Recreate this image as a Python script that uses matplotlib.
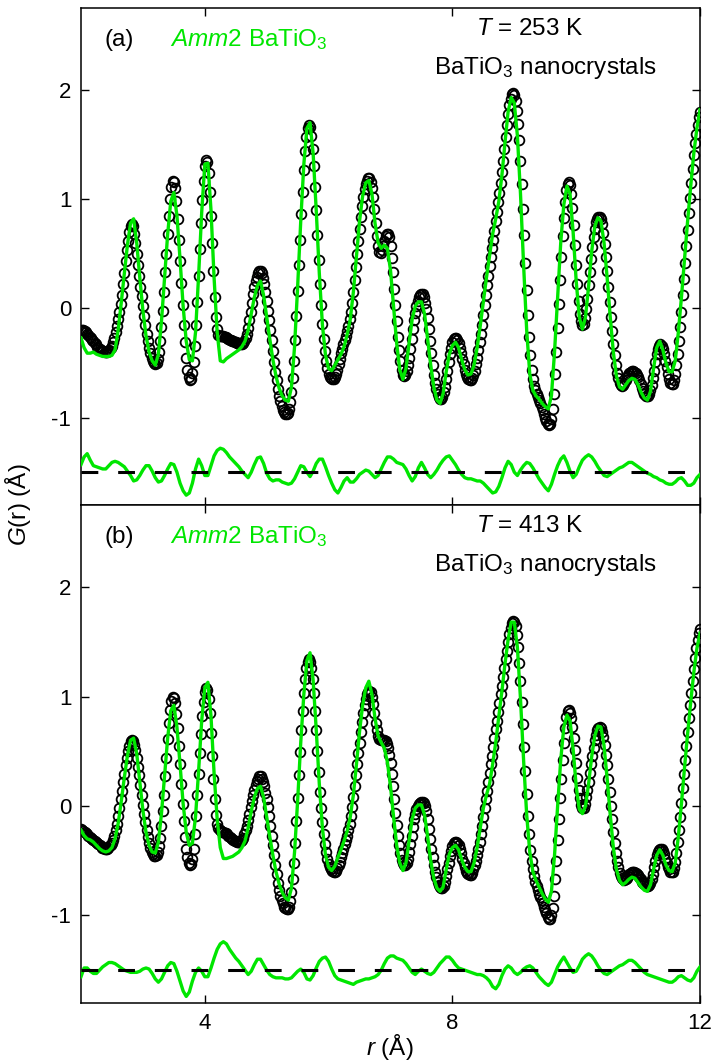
import numpy as np
import matplotlib
matplotlib.use('Agg')
import matplotlib.pyplot as plt

plt.rcParams['font.family'] = ['Liberation Sans', 'DejaVu Sans']
plt.rcParams['mathtext.fontset'] = 'custom'
plt.rcParams['mathtext.rm'] = 'Liberation Sans'
plt.rcParams['mathtext.it'] = 'Liberation Sans:italic'
plt.rcParams['axes.unicode_minus'] = False

# observed G(r), r = 2..12 step 0.02
top_obs = [
    -0.21, -0.20, -0.20, -0.21, -0.22, -0.23, -0.24, -0.26, -0.27, -0.29,
    -0.30, -0.32, -0.33, -0.35, -0.36, -0.37, -0.38, -0.39, -0.39, -0.40,
    -0.40, -0.40, -0.39, -0.38, -0.36, -0.34, -0.31, -0.27, -0.22, -0.16,
    -0.10, -0.03, 0.04, 0.12, 0.22, 0.32, 0.43, 0.53, 0.62, 0.70,
    0.75, 0.77, 0.75, 0.68, 0.60, 0.50, 0.40, 0.30, 0.20, 0.11,
    0.02, -0.07, -0.15, -0.23, -0.30, -0.36, -0.41, -0.45, -0.48, -0.50,
    -0.51, -0.50, -0.46, -0.40, -0.30, -0.17, -0.02, 0.15, 0.33, 0.50,
    0.68, 0.85, 1.00, 1.11, 1.17, 1.16, 1.10, 0.98, 0.82, 0.63,
    0.43, 0.23, 0.03, -0.15, -0.31, -0.45, -0.56, -0.63, -0.66, -0.65,
    -0.59, -0.49, -0.34, -0.15, 0.06, 0.30, 0.54, 0.78, 0.99, 1.17,
    1.30, 1.36, 1.34, 1.24, 1.07, 0.85, 0.60, 0.34, 0.10, -0.08,
    -0.19, -0.24, -0.25, -0.25, -0.25, -0.25, -0.26, -0.26, -0.27, -0.28,
    -0.29, -0.29, -0.30, -0.30, -0.31, -0.31, -0.32, -0.32, -0.33, -0.33,
    -0.33, -0.32, -0.30, -0.27, -0.23, -0.18, -0.11, -0.03, 0.05, 0.13,
    0.20, 0.25, 0.29, 0.32, 0.34, 0.34, 0.32, 0.28, 0.22, 0.15,
    0.07, -0.02, -0.11, -0.20, -0.29, -0.39, -0.49, -0.58, -0.66, -0.74,
    -0.80, -0.85, -0.89, -0.93, -0.95, -0.97, -0.97, -0.96, -0.92, -0.86,
    -0.77, -0.64, -0.48, -0.29, -0.07, 0.16, 0.40, 0.63, 0.86, 1.07,
    1.27, 1.44, 1.57, 1.65, 1.68, 1.66, 1.58, 1.46, 1.30, 1.11,
    0.90, 0.67, 0.44, 0.22, 0.03, -0.14, -0.28, -0.39, -0.48, -0.55,
    -0.60, -0.63, -0.64, -0.65, -0.65, -0.63, -0.60, -0.56, -0.51, -0.46,
    -0.41, -0.37, -0.33, -0.29, -0.25, -0.21, -0.16, -0.10, -0.03, 0.05,
    0.15, 0.26, 0.38, 0.50, 0.62, 0.73, 0.84, 0.94, 1.02, 1.09,
    1.14, 1.17, 1.19, 1.19, 1.16, 1.10, 1.02, 0.91, 0.78, 0.66,
    0.57, 0.52, 0.51, 0.53, 0.57, 0.62, 0.66, 0.68, 0.68, 0.65,
    0.57, 0.46, 0.33, 0.18, 0.03, -0.12, -0.26, -0.38, -0.48, -0.56,
    -0.61, -0.62, -0.61, -0.57, -0.52, -0.45, -0.37, -0.28, -0.19, -0.11,
    -0.04, 0.02, 0.07, 0.10, 0.12, 0.13, 0.13, 0.10, 0.05, -0.01,
    -0.09, -0.19, -0.30, -0.41, -0.52, -0.61, -0.68, -0.74, -0.78, -0.81,
    -0.83, -0.83, -0.81, -0.77, -0.72, -0.65, -0.57, -0.49, -0.42, -0.36,
    -0.31, -0.28, -0.27, -0.27, -0.29, -0.32, -0.36, -0.41, -0.46, -0.51,
    -0.56, -0.60, -0.63, -0.65, -0.66, -0.66, -0.64, -0.61, -0.57, -0.51,
    -0.45, -0.38, -0.31, -0.23, -0.15, -0.06, 0.03, 0.12, 0.21, 0.30,
    0.39, 0.47, 0.55, 0.63, 0.71, 0.80, 0.88, 0.97, 1.06, 1.15,
    1.25, 1.35, 1.46, 1.57, 1.68, 1.78, 1.86, 1.92, 1.96, 1.97,
    1.95, 1.90, 1.81, 1.69, 1.54, 1.35, 1.14, 0.91, 0.67, 0.42,
    0.17, -0.06, -0.26, -0.43, -0.56, -0.65, -0.71, -0.75, -0.78, -0.81,
    -0.84, -0.87, -0.90, -0.93, -0.97, -1.00, -1.03, -1.06, -1.07, -1.06,
    -1.01, -0.92, -0.78, -0.60, -0.40, -0.18, 0.04, 0.26, 0.47, 0.66,
    0.83, 0.97, 1.08, 1.14, 1.16, 1.13, 1.05, 0.92, 0.76, 0.58,
    0.40, 0.22, 0.07, -0.05, -0.12, -0.15, -0.14, -0.09, -0.01, 0.09,
    0.21, 0.33, 0.45, 0.56, 0.65, 0.73, 0.79, 0.82, 0.84, 0.84,
    0.82, 0.77, 0.69, 0.59, 0.47, 0.34, 0.20, 0.06, -0.08, -0.21,
    -0.33, -0.43, -0.52, -0.59, -0.64, -0.68, -0.70, -0.71, -0.70, -0.68,
    -0.66, -0.63, -0.61, -0.59, -0.58, -0.57, -0.57, -0.58, -0.59, -0.61,
    -0.63, -0.66, -0.69, -0.73, -0.76, -0.78, -0.80, -0.80, -0.80, -0.78,
    -0.75, -0.70, -0.64, -0.57, -0.49, -0.42, -0.37, -0.34, -0.33, -0.34,
    -0.37, -0.42, -0.48, -0.54, -0.60, -0.65, -0.68, -0.69, -0.69, -0.66,
    -0.60, -0.52, -0.42, -0.30, -0.17, -0.03, 0.12, 0.27, 0.42, 0.57,
    0.72, 0.87, 1.01, 1.15, 1.28, 1.40, 1.51, 1.60, 1.68, 1.75,
    1.80,
]

bot_obs = [
    -0.21, -0.22, -0.23, -0.24, -0.25, -0.26, -0.27, -0.28, -0.29, -0.30,
    -0.31, -0.32, -0.33, -0.34, -0.35, -0.36, -0.37, -0.38, -0.38, -0.39,
    -0.39, -0.39, -0.38, -0.37, -0.36, -0.34, -0.31, -0.27, -0.22, -0.16,
    -0.09, -0.02, 0.06, 0.14, 0.22, 0.29, 0.37, 0.44, 0.50, 0.55,
    0.59, 0.60, 0.59, 0.56, 0.51, 0.44, 0.36, 0.28, 0.19, 0.10,
    0.01, -0.07, -0.15, -0.22, -0.28, -0.34, -0.38, -0.42, -0.44, -0.46,
    -0.46, -0.45, -0.42, -0.37, -0.29, -0.18, -0.05, 0.10, 0.27, 0.44,
    0.61, 0.76, 0.88, 0.96, 1.00, 0.99, 0.94, 0.84, 0.71, 0.55,
    0.38, 0.20, 0.02, -0.14, -0.28, -0.39, -0.47, -0.52, -0.54, -0.53,
    -0.48, -0.39, -0.26, -0.09, 0.10, 0.29, 0.48, 0.66, 0.82, 0.95,
    1.04, 1.08, 1.06, 0.98, 0.85, 0.67, 0.46, 0.25, 0.06, -0.08,
    -0.16, -0.20, -0.22, -0.23, -0.24, -0.24, -0.25, -0.25, -0.26, -0.27,
    -0.28, -0.29, -0.30, -0.31, -0.32, -0.32, -0.33, -0.33, -0.33, -0.32,
    -0.31, -0.29, -0.26, -0.22, -0.18, -0.13, -0.07, -0.01, 0.05, 0.10,
    0.15, 0.19, 0.23, 0.25, 0.27, 0.27, 0.25, 0.22, 0.18, 0.12,
    0.06, -0.01, -0.09, -0.18, -0.27, -0.36, -0.45, -0.54, -0.62, -0.70,
    -0.77, -0.82, -0.86, -0.89, -0.92, -0.93, -0.94, -0.94, -0.92, -0.87,
    -0.79, -0.67, -0.52, -0.34, -0.14, 0.07, 0.28, 0.49, 0.69, 0.87,
    1.03, 1.16, 1.26, 1.32, 1.34, 1.32, 1.26, 1.16, 1.03, 0.87,
    0.69, 0.50, 0.31, 0.13, -0.02, -0.15, -0.26, -0.35, -0.42, -0.48,
    -0.53, -0.56, -0.58, -0.59, -0.60, -0.60, -0.59, -0.57, -0.54, -0.51,
    -0.47, -0.43, -0.39, -0.35, -0.31, -0.27, -0.22, -0.16, -0.09, -0.01,
    0.08, 0.18, 0.28, 0.38, 0.48, 0.58, 0.68, 0.77, 0.85, 0.92,
    0.98, 1.02, 1.04, 1.05, 1.04, 1.00, 0.93, 0.85, 0.76, 0.69,
    0.64, 0.61, 0.60, 0.60, 0.60, 0.60, 0.59, 0.57, 0.53, 0.47,
    0.39, 0.29, 0.18, 0.06, -0.06, -0.17, -0.27, -0.36, -0.43, -0.49,
    -0.52, -0.54, -0.54, -0.52, -0.48, -0.42, -0.35, -0.27, -0.19, -0.12,
    -0.07, -0.03, 0.00, 0.02, 0.03, 0.04, 0.04, 0.03, 0.00, -0.05,
    -0.12, -0.21, -0.30, -0.39, -0.47, -0.54, -0.60, -0.65, -0.69, -0.72,
    -0.74, -0.75, -0.75, -0.73, -0.69, -0.64, -0.58, -0.52, -0.46, -0.41,
    -0.37, -0.34, -0.33, -0.33, -0.34, -0.36, -0.39, -0.43, -0.48, -0.52,
    -0.56, -0.59, -0.61, -0.62, -0.63, -0.63, -0.61, -0.58, -0.54, -0.50,
    -0.45, -0.39, -0.33, -0.26, -0.18, -0.10, -0.02, 0.06, 0.14, 0.22,
    0.30, 0.38, 0.46, 0.54, 0.62, 0.70, 0.78, 0.86, 0.94, 1.02,
    1.10, 1.18, 1.26, 1.34, 1.42, 1.50, 1.57, 1.63, 1.67, 1.69,
    1.68, 1.64, 1.56, 1.45, 1.31, 1.14, 0.95, 0.75, 0.54, 0.32,
    0.11, -0.09, -0.26, -0.40, -0.50, -0.58, -0.64, -0.69, -0.73, -0.77,
    -0.80, -0.83, -0.86, -0.89, -0.92, -0.95, -0.98, -1.01, -1.03, -1.03,
    -1.00, -0.93, -0.82, -0.67, -0.50, -0.31, -0.12, 0.07, 0.25, 0.42,
    0.58, 0.71, 0.81, 0.87, 0.88, 0.85, 0.80, 0.72, 0.62, 0.51,
    0.39, 0.26, 0.15, 0.07, 0.01, -0.02, -0.02, 0.02, 0.08, 0.15,
    0.22, 0.30, 0.38, 0.46, 0.53, 0.60, 0.65, 0.69, 0.71, 0.72,
    0.71, 0.68, 0.63, 0.56, 0.47, 0.37, 0.25, 0.13, 0.00, -0.12,
    -0.24, -0.34, -0.43, -0.50, -0.56, -0.61, -0.64, -0.66, -0.67, -0.68,
    -0.67, -0.66, -0.64, -0.62, -0.61, -0.60, -0.60, -0.60, -0.61, -0.62,
    -0.63, -0.65, -0.67, -0.69, -0.70, -0.71, -0.72, -0.73, -0.73, -0.72,
    -0.70, -0.67, -0.62, -0.56, -0.50, -0.45, -0.42, -0.40, -0.39, -0.39,
    -0.41, -0.44, -0.48, -0.52, -0.56, -0.58, -0.60, -0.60, -0.60, -0.57,
    -0.51, -0.43, -0.33, -0.22, -0.10, 0.03, 0.16, 0.29, 0.42, 0.55,
    0.68, 0.80, 0.92, 1.03, 1.14, 1.25, 1.35, 1.44, 1.52, 1.58,
    1.62,
]

# Amm2 fit, r = 2..12 step 0.05
top_fit = [
    -0.27, -0.36, -0.41, -0.41, -0.40, -0.42, -0.43, -0.44, -0.44, -0.44,
    -0.43, -0.38, -0.20, 0.05, 0.32, 0.58, 0.78, 0.82, 0.60, 0.28,
    -0.02, -0.25, -0.40, -0.48, -0.52, -0.42, -0.12, 0.28, 0.68, 0.98,
    1.06, 0.85, 0.45, 0.02, -0.30, -0.47, -0.48, -0.22, 0.30, 0.88,
    1.32, 1.33, 0.90, 0.28, -0.22, -0.48, -0.49, -0.46, -0.44, -0.42,
    -0.40, -0.38, -0.35, -0.30, -0.20, -0.05, 0.10, 0.21, 0.25, 0.12,
    -0.08, -0.28, -0.47, -0.62, -0.73, -0.80, -0.84, -0.85, -0.72, -0.35,
    0.20, 0.80, 1.32, 1.65, 1.70, 1.42, 0.90, 0.32, -0.15, -0.43,
    -0.55, -0.57, -0.52, -0.47, -0.42, -0.35, -0.24, -0.10, 0.15, 0.48,
    0.80, 1.03, 1.15, 1.17, 1.05, 0.78, 0.60, 0.55, 0.58, 0.55,
    0.35, 0.02, -0.32, -0.56, -0.65, -0.55, -0.32, -0.10, 0.02, 0.06,
    0.06, -0.05, -0.28, -0.52, -0.72, -0.84, -0.87, -0.78, -0.58, -0.42,
    -0.34, -0.31, -0.36, -0.47, -0.56, -0.61, -0.60, -0.52, -0.36, -0.16,
    0.06, 0.28, 0.48, 0.68, 0.82, 0.98, 1.22, 1.52, 1.80, 1.93,
    1.88, 1.58, 1.05, 0.40, -0.20, -0.60, -0.75, -0.80, -0.83, -0.87,
    -0.90, -0.92, -0.80, -0.40, 0.10, 0.60, 0.95, 1.12, 1.05, 0.70,
    0.25, -0.08, -0.19, -0.08, 0.20, 0.52, 0.75, 0.83, 0.80, 0.60,
    0.28, -0.08, -0.40, -0.62, -0.72, -0.74, -0.70, -0.66, -0.64, -0.65,
    -0.70, -0.77, -0.82, -0.84, -0.76, -0.55, -0.36, -0.30, -0.38, -0.50,
    -0.58, -0.58, -0.48, -0.22, 0.10, 0.45, 0.80, 1.12, 1.42, 1.65,
    1.82,
]

bot_fit = [
    -0.22, -0.27, -0.30, -0.31, -0.33, -0.36, -0.39, -0.41, -0.42, -0.41,
    -0.38, -0.30, -0.16, 0.04, 0.26, 0.46, 0.60, 0.62, 0.48, 0.22,
    -0.04, -0.24, -0.36, -0.42, -0.43, -0.33, -0.07, 0.28, 0.62, 0.87,
    0.92, 0.72, 0.38, 0.02, -0.24, -0.36, -0.34, -0.10, 0.32, 0.78,
    1.08, 1.13, 0.82, 0.30, -0.12, -0.38, -0.48, -0.48, -0.47, -0.46,
    -0.44, -0.42, -0.38, -0.32, -0.20, -0.05, 0.08, 0.16, 0.18, 0.08,
    -0.10, -0.28, -0.45, -0.60, -0.71, -0.79, -0.84, -0.86, -0.75, -0.42,
    0.05, 0.58, 1.02, 1.33, 1.40, 1.15, 0.70, 0.20, -0.20, -0.45,
    -0.56, -0.59, -0.55, -0.47, -0.40, -0.32, -0.23, -0.10, 0.10, 0.38,
    0.68, 0.92, 1.08, 1.14, 1.02, 0.80, 0.64, 0.58, 0.53, 0.40,
    0.18, -0.10, -0.36, -0.52, -0.59, -0.52, -0.32, -0.12, -0.02, 0.01,
    0.01, -0.08, -0.28, -0.50, -0.66, -0.75, -0.78, -0.74, -0.58, -0.44,
    -0.38, -0.36, -0.40, -0.49, -0.56, -0.60, -0.60, -0.52, -0.38, -0.20,
    -0.02, 0.10, 0.20, 0.38, 0.58, 0.82, 1.05, 1.30, 1.52, 1.68,
    1.68, 1.45, 0.98, 0.42, -0.08, -0.42, -0.60, -0.68, -0.74, -0.80,
    -0.85, -0.88, -0.78, -0.45, 0.00, 0.42, 0.72, 0.83, 0.78, 0.52,
    0.18, -0.03, -0.07, 0.00, 0.20, 0.45, 0.64, 0.73, 0.72, 0.55,
    0.25, -0.08, -0.38, -0.58, -0.68, -0.72, -0.70, -0.67, -0.65, -0.66,
    -0.70, -0.74, -0.77, -0.78, -0.72, -0.58, -0.45, -0.40, -0.45, -0.54,
    -0.59, -0.60, -0.52, -0.28, 0.02, 0.35, 0.66, 0.95, 1.22, 1.44,
    1.58,
]

# difference curves (shown shifted down to -1.5), r = 2..12 step 0.05
top_diff = [
    0.07, 0.14, 0.17, 0.11, 0.06, 0.05, 0.04, 0.03, 0.03, 0.06,
    0.09, 0.10, 0.09, 0.07, 0.05, 0.01, -0.03, -0.08, -0.07, -0.03,
    0.02, 0.06, 0.06, 0.01, -0.05, -0.09, -0.08, -0.03, 0.03, 0.08,
    0.07, 0.00, -0.10, -0.17, -0.21, -0.19, -0.10, 0.03, 0.12, 0.06,
    -0.03, -0.03, 0.06, 0.15, 0.20, 0.22, 0.21, 0.18, 0.14, 0.11,
    0.08, 0.05, 0.01, -0.02, -0.05, 0.00, 0.07, 0.13, 0.14, 0.08,
    -0.01, -0.06, -0.08, -0.07, -0.07, -0.09, -0.10, -0.11, -0.10, -0.06,
    0.00, 0.06, 0.05, 0.00, -0.04, 0.01, 0.08, 0.12, 0.12, 0.05,
    -0.03, -0.10, -0.16, -0.19, -0.14, -0.08, -0.05, -0.09, -0.09, -0.06,
    -0.02, 0.00, 0.02, 0.01, -0.02, -0.05, -0.03, 0.03, 0.09, 0.14,
    0.14, 0.12, 0.09, 0.08, 0.07, 0.03, -0.03, -0.08, -0.04, 0.04,
    0.09, 0.04, -0.02, -0.05, -0.02, 0.02, 0.07, 0.11, 0.14, 0.15,
    0.11, 0.07, 0.02, -0.02, -0.05, -0.06, -0.06, -0.07, -0.08, -0.08,
    -0.10, -0.13, -0.16, -0.19, -0.18, -0.13, -0.05, 0.04, 0.10, 0.07,
    0.00, -0.03, 0.02, 0.06, 0.09, 0.08, 0.04, -0.01, -0.06, -0.10,
    -0.14, -0.17, -0.11, -0.02, 0.06, 0.12, 0.15, 0.09, 0.01, -0.05,
    -0.02, 0.05, 0.11, 0.14, 0.16, 0.14, 0.10, 0.05, 0.01, -0.03,
    -0.04, -0.02, 0.00, 0.02, 0.04, 0.05, 0.07, 0.09, 0.09, 0.07,
    0.05, 0.03, 0.01, -0.01, -0.02, -0.04, -0.05, -0.07, -0.08, -0.10,
    -0.11, -0.11, -0.09, -0.06, -0.05, -0.08, -0.12, -0.12, -0.10, -0.05,
    -0.02,
]

bot_diff = [
    -0.06, 0.02, 0.02, -0.01, -0.03, -0.03, 0.00, 0.03, 0.05, 0.07,
    0.07, 0.06, 0.04, 0.02, 0.00, -0.01, -0.02, -0.02, -0.02, -0.01,
    0.01, 0.02, 0.01, -0.03, -0.08, -0.11, -0.08, -0.02, 0.04, 0.07,
    0.06, -0.01, -0.10, -0.19, -0.24, -0.20, -0.10, -0.02, 0.02, -0.01,
    -0.06, -0.06, 0.02, 0.11, 0.19, 0.24, 0.26, 0.24, 0.19, 0.15,
    0.11, 0.08, 0.04, 0.00, -0.04, -0.01, 0.05, 0.10, 0.10, 0.05,
    0.00, -0.04, -0.06, -0.07, -0.07, -0.07, -0.08, -0.08, -0.07, -0.04,
    -0.01, 0.01, -0.02, -0.08, -0.09, -0.05, 0.02, 0.08, 0.11, 0.12,
    0.08, 0.01, -0.05, -0.08, -0.09, -0.10, -0.11, -0.12, -0.13, -0.11,
    -0.10, -0.09, -0.08, -0.08, -0.07, -0.06, -0.04, 0.00, 0.06, 0.11,
    0.13, 0.13, 0.11, 0.10, 0.09, 0.06, 0.02, -0.02, -0.04, -0.01,
    0.01, -0.01, -0.03, -0.04, -0.02, 0.02, 0.06, 0.09, 0.12, 0.12,
    0.09, 0.05, 0.02, 0.01, 0.00, -0.01, -0.02, -0.03, -0.04, -0.04,
    -0.05, -0.07, -0.10, -0.15, -0.17, -0.13, -0.05, 0.01, 0.04, 0.02,
    -0.02, -0.04, -0.02, 0.01, 0.03, 0.04, 0.02, -0.02, -0.06, -0.09,
    -0.12, -0.14, -0.11, -0.04, 0.03, 0.08, 0.12, 0.07, 0.02, -0.02,
    -0.01, 0.04, 0.10, 0.13, 0.15, 0.13, 0.09, 0.04, 0.00, -0.03,
    -0.04, -0.02, 0.00, 0.02, 0.04, 0.05, 0.07, 0.09, 0.09, 0.07,
    0.04, 0.01, -0.02, -0.04, -0.05, -0.06, -0.07, -0.08, -0.09, -0.10,
    -0.11, -0.11, -0.09, -0.06, -0.05, -0.07, -0.09, -0.10, -0.07, -0.01,
    0.03,
]

diff_offset = -1.5
temps = ['253', '413']
panel_tags = ['(a)', '(b)']

GREEN = '#00e600'
FS_TICK = 16
FS_TEXT = 17.5
FS_LABEL = 17.5

fig = plt.figure(figsize=(7.18, 10.63), dpi=100)
W, H = 718.0, 1063.0
ax1 = fig.add_axes([81 / W, 1 - 505 / H, 619 / W, 497 / H])
ax2 = fig.add_axes([81 / W, 1 - 1003 / H, 619 / W, 498 / H])

panels = [(ax1, top_obs, top_fit, top_diff), (ax2, bot_obs, bot_fit, bot_diff)]
for i, (ax, obs, fit, diff) in enumerate(panels):
    r_obs = np.linspace(2, 12, len(obs))
    r_fit = np.linspace(2, 12, len(fit))
    r_diff = np.linspace(2, 12, len(diff))
    ax.plot(r_obs, obs, 'o', mfc='none', mec='black', ms=7, mew=1.3, zorder=2)
    ax.plot(r_fit, fit, color=GREEN, lw=2.4, zorder=3)
    ax.plot(r_diff, np.array(diff) + diff_offset, color=GREEN, lw=2.4, zorder=3)
    ax.axhline(diff_offset, color='black', lw=2.2, dashes=(5.5, 6.5), zorder=4)

    ax.set_xlim(2, 12)
    ax.set_ylim(-1.80, 2.75)
    ax.set_xticks([4, 8, 12])
    ax.set_yticks([-1, 0, 1, 2])
    ax.tick_params(direction='in', top=True, right=True, length=6, width=1,
                   labelsize=FS_TICK, pad=7)
    for s in ax.spines.values():
        s.set_linewidth(1.1)

    ax.text(0.038, 0.936, panel_tags[i], transform=ax.transAxes, fontsize=FS_TEXT, va='center')
    ax.text(0.143, 0.936, r'$\mathit{Amm}$2 BaTiO$_3$', transform=ax.transAxes,
            fontsize=FS_TEXT, va='center', color=GREEN)
    ax.text(0.725, 0.958, r'$\mathit{T}$ = ' + temps[i] + ' K', transform=ax.transAxes,
            fontsize=FS_TEXT, ha='center', va='center')
    ax.text(0.75, 0.879, r'BaTiO$_3$ nanocrystals', transform=ax.transAxes,
            fontsize=FS_TEXT, ha='center', va='center')

ax1.tick_params(labelbottom=False)

fig.text(18 / W, 1 - 505 / H, r'$\mathit{G}$(r) (Å)', rotation=90, fontsize=FS_LABEL,
         ha='center', va='center')
fig.text(390 / W, 1 - 1047 / H, r'$\mathit{r}$ (Å)', fontsize=FS_LABEL, ha='center', va='center')

fig.savefig('out.png', dpi=100)
